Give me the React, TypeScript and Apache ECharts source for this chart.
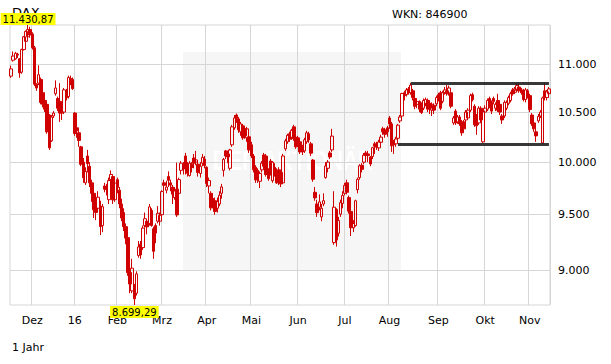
import { useEffect, useRef } from "react";
import * as echarts from "echarts";

// Trading days (one year, daily candles)
const dates: string[] = [
  "2015-11-17","2015-11-18","2015-11-19","2015-11-20","2015-11-23","2015-11-24","2015-11-25","2015-11-26","2015-11-27","2015-11-30",
  "2015-12-01","2015-12-02","2015-12-03","2015-12-04","2015-12-07","2015-12-08","2015-12-09","2015-12-10","2015-12-11","2015-12-14",
  "2015-12-15","2015-12-16","2015-12-17","2015-12-18","2015-12-21","2015-12-22","2015-12-23","2015-12-28","2015-12-29","2015-12-30",
  "2016-01-04","2016-01-05","2016-01-06","2016-01-07","2016-01-08","2016-01-11","2016-01-12","2016-01-13","2016-01-14","2016-01-15",
  "2016-01-18","2016-01-19","2016-01-20","2016-01-21","2016-01-22","2016-01-25","2016-01-26","2016-01-27","2016-01-28","2016-01-29",
  "2016-02-01","2016-02-02","2016-02-03","2016-02-04","2016-02-05","2016-02-08","2016-02-09","2016-02-10","2016-02-11","2016-02-12",
  "2016-02-15","2016-02-16","2016-02-17","2016-02-18","2016-02-19","2016-02-22","2016-02-23","2016-02-24","2016-02-25","2016-02-26",
  "2016-02-29",
  "2016-03-01","2016-03-02","2016-03-03","2016-03-04","2016-03-07","2016-03-08","2016-03-09","2016-03-10","2016-03-11","2016-03-14",
  "2016-03-15","2016-03-16","2016-03-17","2016-03-18","2016-03-21","2016-03-22","2016-03-23","2016-03-24","2016-03-29","2016-03-30",
  "2016-03-31",
  "2016-04-01","2016-04-04","2016-04-05","2016-04-06","2016-04-07","2016-04-08","2016-04-11","2016-04-12","2016-04-13","2016-04-14",
  "2016-04-15","2016-04-18","2016-04-19","2016-04-20","2016-04-21","2016-04-22","2016-04-25","2016-04-26","2016-04-27","2016-04-28",
  "2016-04-29",
  "2016-05-02","2016-05-03","2016-05-04","2016-05-05","2016-05-06","2016-05-09","2016-05-10","2016-05-11","2016-05-12","2016-05-13",
  "2016-05-16","2016-05-17","2016-05-18","2016-05-19","2016-05-20","2016-05-23","2016-05-24","2016-05-25","2016-05-26","2016-05-27",
  "2016-05-30","2016-05-31",
  "2016-06-01","2016-06-02","2016-06-03","2016-06-06","2016-06-07","2016-06-08","2016-06-09","2016-06-10","2016-06-13","2016-06-14",
  "2016-06-15","2016-06-16","2016-06-17","2016-06-20","2016-06-21","2016-06-22","2016-06-23","2016-06-24","2016-06-27","2016-06-28",
  "2016-06-29","2016-06-30",
  "2016-07-01","2016-07-04","2016-07-05","2016-07-06","2016-07-07","2016-07-08","2016-07-11","2016-07-12","2016-07-13","2016-07-14",
  "2016-07-15","2016-07-18","2016-07-19","2016-07-20","2016-07-21","2016-07-22","2016-07-25","2016-07-26","2016-07-27","2016-07-28",
  "2016-07-29",
  "2016-08-01","2016-08-02","2016-08-03","2016-08-04","2016-08-05","2016-08-08","2016-08-09","2016-08-10","2016-08-11","2016-08-12",
  "2016-08-15","2016-08-16","2016-08-17","2016-08-18","2016-08-19","2016-08-22","2016-08-23","2016-08-24","2016-08-25","2016-08-26",
  "2016-08-29","2016-08-30","2016-08-31",
  "2016-09-01","2016-09-02","2016-09-05","2016-09-06","2016-09-07","2016-09-08","2016-09-09","2016-09-12","2016-09-13","2016-09-14",
  "2016-09-15","2016-09-16","2016-09-19","2016-09-20","2016-09-21","2016-09-22","2016-09-23","2016-09-26","2016-09-27","2016-09-28",
  "2016-09-29","2016-09-30",
  "2016-10-03","2016-10-04","2016-10-05","2016-10-06","2016-10-07","2016-10-10","2016-10-11","2016-10-12","2016-10-13","2016-10-14",
  "2016-10-17","2016-10-18","2016-10-19","2016-10-20","2016-10-21","2016-10-24","2016-10-25","2016-10-26","2016-10-27","2016-10-28",
  "2016-10-31",
  "2016-11-01","2016-11-02","2016-11-03","2016-11-04","2016-11-07","2016-11-08","2016-11-09","2016-11-10","2016-11-11","2016-11-14",
];

// [open, close, low, high]
const ohlc: number[][] = [
  [10875,10952,10857,10987],[11045,11090,11030,11140],[11060,11120,11050,11135],[11110,11100,11070,11125],[11060,10910,10857,11070],
  [10917,11160,10900,11170],[11160,11300,11150,11310],[11250,11360,11230,11370],[11300,11380,11280,11430.87],[11380,11320,11290,11410],
  // Dec
  [11330,11180,11160,11350],[11180,10790,10770,11200],[10790,10750,10720,10800],[10800,10890,10780,10990],[10840,10600,10580,10860],
  [10700,10580,10550,10710],[10620,10530,10500,10640],[10580,10300,10280,10600],[10470,10140,10120,10480],[10210,10450,10200,10470],
  [10460,10490,10440,10510],[10690,10750,10670,10830],[10640,10540,10510,10660],[10610,10490,10400,10800],[10490,10500,10420,10560],
  [10500,10730,10480,10750],[10700,10650,10620,10740],[10660,10860,10640,10880],[10850,10840,10780,10880],[10840,10743,10730,10860],
  // Jan
  [10490,10283,10260,10500],[10340,10310,10240,10370],[10290,10214,10150,10310],[10150,9979,9960,10160],[10000,9849,9800,10040],
  [9800,9910,9780,9950],[10060,9985,9900,10120],[9960,9800,9760,10000],[9800,9700,9620,9830],[9700,9545,9470,9720],
  [9560,9521,9450,9620],[9560,9664,9540,9720],[9580,9391,9314,9630],[9400,9574,9340,9600],[9770,9740,9710,9800],
  [9760,9736,9680,9790],[9640,9822,9600,9850],[9830,9880,9800,9920],[9860,9639,9600,9880],[9640,9798,9620,9830],
  // Feb
  [9830,9757,9700,9850],[9730,9600,9560,9760],[9600,9470,9440,9650],[9520,9390,9350,9560],[9390,9286,9230,9420],
  [9290,8979,8950,9330],[8980,8879,8800,9060],[8820,9017,8800,9100],[8840,8752,8699.29,8880],[8800,8967,8780,8990],
  [9130,9206,9110,9260],[9230,9135,9100,9260],[9200,9377,9180,9400],[9400,9463,9380,9520],[9440,9388,9320,9460],
  [9420,9573,9400,9600],[9540,9400,9390,9560],[9370,9167,9100,9390],[9400,9331,9240,9420],[9440,9513,9420,9580],
  [9440,9495,9400,9520],
  // Mar
  [9500,9717,9480,9730],[9800,9776,9720,9830],[9730,9760,9700,9820],[9860,9824,9760,9910],[9800,9778,9720,9830],
  [9760,9692,9600,9780],[9660,9723,9640,9760],[9740,9498,9480,9995],[9700,9831,9600,9850],[9920,9990,9880,10010],
  [9980,9933,9880,10000],[10060,9940,9880,10090],[9980,9892,9860,10000],[9870,9990,9860,10010],[9980,9948,9900,10000],
  [10040,9990,9940,10080],[10000,10022,9970,10110],[9980,9900,9860,10010],[9890,9960,9850,10000],[9990,10046,9960,10080],
  [10030,9966,9940,10060],
  // Apr
  [9950,9794,9760,9960],[9770,9822,9700,9850],[9700,9564,9540,9720],[9650,9624,9560,9670],[9630,9530,9500,9660],
  [9560,9622,9520,9660],[9600,9682,9580,9720],[9700,9761,9650,9790],[9920,10027,9860,10040],[10110,10060,10030,10120],
  [10080,10051,9990,10110],[9940,10120,9920,10130],[10170,10350,10150,10370],[10340,10440,10320,10470],[10470,10435,10390,10486],
  [10430,10320,10290,10450],[10300,10380,10260,10400],[10360,10240,10220,10380],[10330,10260,10230,10350],[10240,10330,10200,10350],
  [10250,10120,10090,10270],
  // May
  [10170,10060,10040,10200],[10060,9926,9900,10080],[9950,9828,9800,9970],[9920,9830,9800,9940],[9815,9890,9750,9910],
  [9925,9990,9900,10010],[10070,9960,9940,10090],[10060,9880,9860,10080],[9910,9840,9820,9940],[10010,9900,9870,10030],
  [9820,10000,9800,10010],[9950,9890,9860,9990],[9900,9800,9790,9940],[9925,9830,9780,9950],[9900,9790,9760,9920],
  [9800,10060,9790,10080],[10130,10210,10110,10230],[10200,10265,10180,10280],[10280,10225,10200,10300],[10245,10315,10220,10330],
  [10350,10230,10210,10370],[10245,10150,10130,10270],
  // Jun
  [10240,10200,10150,10260],[10200,10100,10080,10220],[10150,10100,10070,10170],[10110,10220,10090,10240],[10200,10290,10180,10310],
  [10280,10218,10190,10300],[10180,10088,10060,10200],[10020,9834,9810,10030],[9710,9657,9630,9760],[9600,9519,9480,9640],
  [9570,9620,9540,9690],[9480,9560,9440,9600],[9600,9631,9580,9700],[9850,9962,9840,10000],[9940,10000,9900,10020],
  [10090,10050,10030,10110],[10120,10257,10100,10330],[9245,9570,9226,9720],[9550,9268,9210,9560],[9330,9447,9300,9480],
  [9505,9612,9480,9640],[9605,9680,9560,9720],
  // Jul
  [9700,9776,9680,9800],[9800,9710,9690,9830],[9660,9533,9510,9680],[9530,9380,9305,9540],[9380,9419,9340,9450],
  [9400,9630,9390,9640],[9735,9834,9700,9850],[9850,9964,9830,9980],[9970,9930,9900,9990],[10000,10068,9980,10090],
  [10090,10066,10020,10110],[10080,10064,10000,10110],[10050,9982,9960,10060],[10055,10142,10030,10150],[10180,10157,10080,10200],
  [10180,10147,10120,10200],[10140,10198,10110,10220],[10195,10247,10180,10270],[10330,10300,10270,10350],[10320,10275,10240,10340],
  [10340,10300,10250,10360],
  // Aug
  [10440,10380,10330,10460],[10380,10160,10100,10400],[10200,10170,10080,10220],[10180,10228,10150,10250],[10235,10367,10220,10380],
  [10410,10450,10390,10470],[10460,10692,10440,10700],[10700,10670,10620,10720],[10680,10730,10660,10750],[10740,10700,10680,10760],
  [10700,10780,10680,10802],[10720,10650,10620,10740],[10640,10560,10530,10660],[10580,10610,10540,10640],[10610,10530,10500,10620],
  [10580,10494,10480,10600],[10540,10620,10520,10640],[10590,10630,10560,10650],[10620,10530,10500,10640],[10590,10540,10480,10620],
  [10520,10580,10460,10600],[10570,10520,10480,10590],[10585,10650,10560,10670],
  // Sep
  [10680,10640,10610,10700],[10700,10540,10520,10720],[10610,10700,10590,10720],[10700,10730,10680,10760],[10720,10690,10670,10780],
  [10690,10750,10670,10775],[10700,10560,10540,10720],[10390,10440,10370,10460],[10510,10390,10370,10530],[10400,10450,10380,10470],
  [10450,10380,10360,10470],[10400,10290,10260,10420],[10400,10330,10300,10420],[10420,10500,10390,10520],[10440,10520,10420,10540],
  [10520,10670,10500,10690],[10680,10630,10610,10700],[10560,10370,10350,10580],[10460,10360,10270,10480],[10390,10540,10370,10560],
  [10540,10420,10400,10560],[10200,10511,10190,10530],
  // Oct
  [10500,10540,10480,10570],[10530,10620,10510,10640],[10640,10560,10540,10660],[10600,10510,10480,10620],[10640,10610,10580,10660],
  [10540,10580,10510,10600],[10620,10520,10500,10690],[10580,10500,10470,10600],[10460,10420,10380,10480],[10460,10600,10440,10620],
  [10540,10600,10520,10620],[10590,10650,10570,10670],[10620,10690,10600,10710],[10730,10690,10670,10750],[10705,10740,10690,10760],
  [10725,10775,10710,10805],[10760,10720,10700,10805],[10730,10700,10680,10750],[10720,10630,10610,10740],[10630,10730,10600,10750],
  [10720,10665,10640,10740],
  // Nov
  [10670,10526,10500,10690],[10470,10380,10360,10490],[10390,10330,10300,10410],[10300,10259,10200,10330],[10410,10456,10390,10480],
  [10460,10500,10440,10520],[10190,10646,10174,10660],[10720,10650,10620,10801],[10650,10710,10620,10730],[10690,10740,10670,10760],
];

const yTicks = [9000, 9500, 10000, 10500, 11000];
// label for the first trading day of each month (index = month 0..11)
const monthLabels = ["16", "Feb", "Mrz", "Apr", "Mai", "Jun", "Jul", "Aug", "Sep", "Okt", "Nov", "Dez"];
const resistanceLevel = 10802;
const resistanceFrom = "2016-08-15";
const supportLevel = 10174;
const supportFrom = "2016-08-05";
const titleText = "DAX";
const wknText = "WKN: 846900";
const periodText = "1 Jahr";

const RED = "#d10000";
const GRID = "#d6d6d6";
const FONT = "DejaVu Sans";

function fmtDE(v: number, dec: number): string {
  const s = v.toFixed(dec);
  const [ip, fp] = s.split(".");
  const withDots = ip.replace(/\B(?=(\d{3})+(?!\d))/g, ".");
  return fp ? withDots + "," + fp : withDots;
}

function isMonthStart(i: number): boolean {
  return i > 0 && i < dates.length && dates[i].slice(0, 7) !== dates[i - 1].slice(0, 7);
}

export default function App() {
  const ref = useRef<HTMLDivElement>(null);

  useEffect(() => {
    if (!ref.current) return;
    const chart = echarts.init(ref.current, undefined, { renderer: "svg" });
    const lnData = ohlc.map((r) => r.map((v) => Math.log(v)));
    const lows = ohlc.map((r) => r[2]);
    const highs = ohlc.map((r) => r[3]);
    const yMin = Math.log(Math.min(...lows));
    const yMax = Math.log(Math.max(...highs));
    const lastDate = dates[dates.length - 1];

    chart.setOption({
      animation: false,
      backgroundColor: "#ffffff",
      textStyle: { fontFamily: FONT },
      grid: {
        left: 10,
        right: 61,
        top: 25,
        bottom: 59,
        show: true,
        borderColor: GRID,
        borderWidth: 1,
        backgroundColor: "transparent",
      },
      graphic: [
        {
          type: "rect",
          z: -10,
          silent: true,
          shape: { x: 183, y: 52, width: 218, height: 218 },
          style: { fill: "#f6f6f6" },
        },
        {
          type: "text",
          z: -9,
          silent: true,
          x: 293,
          y: 161,
          scaleX: 0.78,
          style: {
            text: "DER AKTIONÄR",
            fill: "#ffffff",
            font: 'bold 27px "Liberation Sans"',
            textAlign: "center",
            textVerticalAlign: "middle",
          },
        },
        {
          type: "text",
          silent: true,
          x: 12,
          y: 12,
          style: { text: titleText, fill: "#000", font: `13px "${FONT}"`, textVerticalAlign: "middle" },
        },
        {
          type: "text",
          silent: true,
          x: 392,
          y: 14,
          style: { text: wknText, fill: "#000", font: `11px "${FONT}"`, textVerticalAlign: "middle" },
        },
        {
          type: "text",
          silent: true,
          x: 12,
          y: 347,
          style: { text: periodText, fill: "#000", font: `11px "${FONT}"`, textVerticalAlign: "middle" },
        },
      ],
      xAxis: {
        type: "category",
        data: dates,
        boundaryGap: true,
        axisLine: { show: false },
        axisTick: { show: false },
        axisLabel: {
          interval: (i: number) => isMonthStart(i),
          formatter: (v: string) => monthLabels[(parseInt(v.slice(5, 7), 10) - 1) % 12],
          color: "#000",
          fontSize: 11,
          fontFamily: FONT,
          margin: 10,
        },
        splitLine: {
          show: true,
          interval: (i: number) => isMonthStart(i),
          lineStyle: { color: GRID, width: 1 },
        },
      },
      yAxis: {
        type: "value",
        position: "right",
        min: yMin,
        max: yMax,
        axisLine: { show: false },
        axisTick: { show: false, customValues: yTicks.map((v) => Math.log(v)) },
        axisLabel: {
          customValues: yTicks.map((v) => Math.log(v)),
          formatter: (v: number) => fmtDE(Math.round(Math.exp(v)), 0),
          color: "#000",
          fontSize: 11,
          fontFamily: FONT,
          margin: 8,
        },
        splitLine: { show: true, lineStyle: { color: GRID, width: 1 } },
      },
      series: [
        {
          type: "candlestick",
          data: lnData,
          barWidth: 3,
          itemStyle: {
            color: "rgba(255,255,255,0)",
            color0: RED,
            borderColor: RED,
            borderColor0: RED,
            borderWidth: 1,
          },
          markLine: {
            silent: true,
            symbol: ["none", "none"],
            label: { show: false },
            lineStyle: { color: "#222", width: 3, type: "solid", opacity: 0.9 },
            data: [
              [
                { coord: [resistanceFrom, Math.log(resistanceLevel)] },
                { coord: [lastDate, Math.log(resistanceLevel)] },
              ],
              [
                { coord: [supportFrom, Math.log(supportLevel)] },
                { coord: [lastDate, Math.log(supportLevel)] },
              ],
            ],
          },
          markPoint: {
            silent: true,
            symbol: "rect",
            symbolSize: 0,
            label: {
              show: true,
              backgroundColor: "#ffff00",
              color: "#000",
              fontSize: 10,
              fontFamily: FONT,
              lineHeight: 12,
              padding: [0, 2, 0, 2],
              formatter: (p: any) => fmtDE(Math.exp(p.value), 2),
            },
            data: [
              { type: "max", valueDim: "highest", label: { position: "top", distance: 0 } },
              { type: "min", valueDim: "lowest", label: { position: "bottom", distance: 1 } },
            ],
          },
        },
      ],
    });

    return () => chart.dispose();
  }, []);

  return (
    <div
      ref={ref}
      style={{ position: "fixed", left: 0, top: 0, width: 611, height: 364, background: "#fff" }}
    />
  );
}
